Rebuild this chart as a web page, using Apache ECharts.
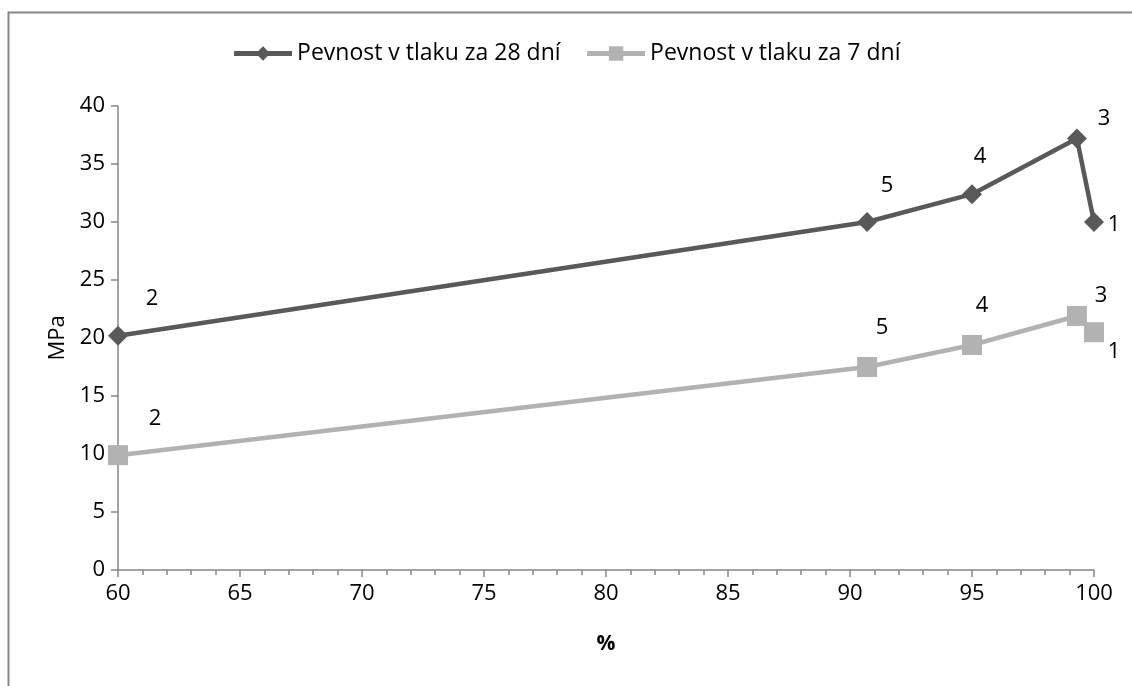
<!DOCTYPE html>
<html>
<head>
<meta charset="utf-8">
<script src="https://cdn.jsdelivr.net/npm/echarts@6/dist/echarts.min.js"></script>
<style>
html,body{margin:0;padding:0;background:#fff;}
#chart{width:1132px;height:686px;}
</style>
</head>
<body>
<div id="chart"></div>
<script>
// Sample numbers and measured values
const sampleIds = [2, 5, 4, 3, 1];
const percent = [60, 90.7, 95, 99.3, 100];
const strength28 = [20.2, 30.0, 32.4, 37.2, 30.0];
const strength7 = [9.9, 17.5, 19.4, 21.9, 20.5];
const seriesNames = ['Pevnost v tlaku za 28 dní', 'Pevnost v tlaku za 7 dní'];
const xTicks = [60, 65, 70, 75, 80, 85, 90, 95, 100];
const yTicks = [0, 5, 10, 15, 20, 25, 30, 35, 40];

const FONT = '"Open Sans", "Liberation Sans", sans-serif';
const FS = 22;

// label offsets per sample id (px)
const labelOffset28 = {2: [34, -37], 5: [20, -36], 4: [8, -37], 3: [27, -20], 1: [20, 3]};
const labelOffset7 = {2: [37, -36], 5: [15, -39], 4: [10, -39], 3: [24, -20], 1: [20, 20]};

function buildData(values, offsets) {
  return percent.map((x, i) => ({
    value: [x, values[i]],
    name: String(sampleIds[i]),
    label: {offset: offsets[sampleIds[i]]}
  }));
}

const chart = echarts.init(document.getElementById('chart'), null, {renderer: 'canvas'});
chart.setOption({
  backgroundColor: '#fff',
  animation: false,
  graphic: [{
    type: 'rect',
    shape: {x: 8.5, y: 12.5, width: 1300, height: 1000},
    style: {fill: 'none', stroke: '#868686', lineWidth: 2},
    silent: true
  }],
  legend: {
    top: 37,
    left: 'center',
    itemWidth: 58,
    itemHeight: 18,
    itemGap: 24,
    lineStyle: {width: 5},
    textStyle: {fontFamily: FONT, fontSize: 23, color: '#000'},
    data: seriesNames
  },
  grid: {left: 118, right: 38, top: 106, bottom: 116},
  xAxis: {
    type: 'value',
    min: xTicks[0],
    max: xTicks[xTicks.length - 1],
    interval: 5,
    name: '%',
    nameLocation: 'middle',
    nameGap: 64,
    nameTextStyle: {fontFamily: FONT, fontSize: FS - 1, fontWeight: 'bold', color: '#000'},
    axisLine: {show: true, lineStyle: {color: '#868686', width: 1.5}},
    axisTick: {show: true, length: 7, inside: false, lineStyle: {color: '#868686', width: 1.5}},
    minorTick: {show: true, splitNumber: 5, length: 5, lineStyle: {color: '#868686', width: 1.5}},
    splitLine: {show: false},
    axisLabel: {fontFamily: FONT, fontSize: FS, color: '#000', margin: 13}
  },
  yAxis: {
    type: 'value',
    min: yTicks[0],
    max: yTicks[yTicks.length - 1],
    interval: 5,
    name: 'MPa',
    nameLocation: 'middle',
    nameGap: 40,
    nameRotate: 90,
    nameTextStyle: {fontFamily: FONT, fontSize: FS, color: '#000'},
    axisLine: {show: true, lineStyle: {color: '#868686', width: 1.5}},
    axisTick: {show: true, length: 7, lineStyle: {color: '#868686', width: 1.5}},
    splitLine: {show: false},
    axisLabel: {fontFamily: FONT, fontSize: FS, color: '#000', margin: 13}
  },
  series: [
    {
      name: seriesNames[0],
      type: 'line',
      data: buildData(strength28, labelOffset28),
      symbol: 'diamond',
      symbolSize: 20,
      showAllSymbol: true,
      lineStyle: {color: '#595959', width: 4.5},
      itemStyle: {color: '#595959'},
      label: {
        show: true,
        position: 'inside',
        formatter: p => p.name,
        fontFamily: FONT, fontSize: FS, color: '#000'
      },
      z: 3
    },
    {
      name: seriesNames[1],
      type: 'line',
      data: buildData(strength7, labelOffset7),
      symbol: 'rect',
      symbolSize: 20,
      showAllSymbol: true,
      lineStyle: {color: '#b2b2b2', width: 4.5},
      itemStyle: {color: '#b2b2b2'},
      label: {
        show: true,
        position: 'inside',
        formatter: p => p.name,
        fontFamily: FONT, fontSize: FS, color: '#000'
      },
      z: 2
    }
  ]
});
</script>
</body>
</html>
